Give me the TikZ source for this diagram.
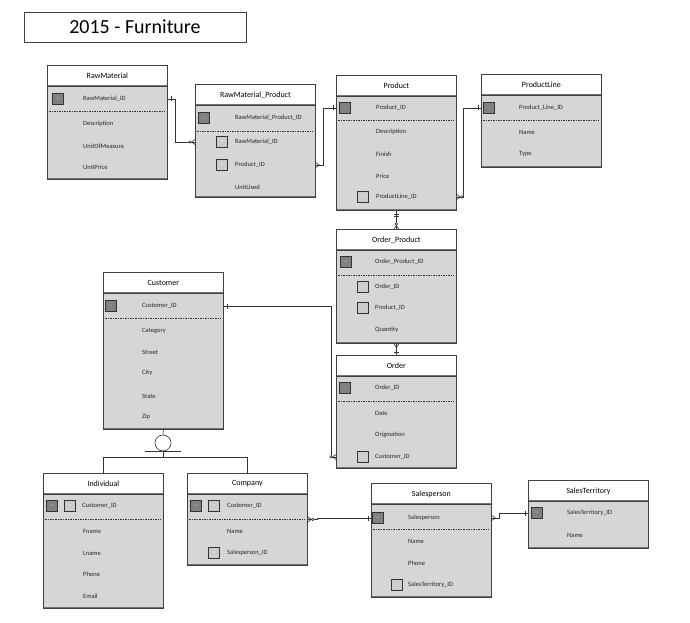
\documentclass[tikz,border=0pt]{standalone}
\usepackage{fontspec}
\setmainfont{Carlito}
\tikzset{
    tbl/.style={draw=black!75, line width=0.8pt, fill=black!16, anchor=north west, minimum width=120pt, inner sep=0pt,
        path picture={\draw[line width=2.4pt, black!55] (path picture bounding box.south west) -- (path picture bounding box.south east);}},
    hdr/.style={draw=black!75, line width=0.8pt, fill=white, anchor=north west, minimum width=120pt, minimum height=21pt, inner sep=0pt, font=\fontsize{8}{9}\selectfont,
        path picture={\draw[line width=2.4pt, black!55] (path picture bounding box.south west) -- (path picture bounding box.south east);}},
    fld/.style={anchor=west, inner sep=0pt, text=black!85, font=\fontsize{6.5}{7}\selectfont},
    pk/.style={draw=black!80, line width=0.6pt, fill=black!50, minimum size=11pt, inner sep=0pt, text=black!25, font=\fontsize{2.5}{3}\selectfont},
    fk/.style={pk, fill=black!20, text=white},
    sep/.style={line width=0.6pt, black!80, dash pattern=on 1.5pt off 1pt},
    link/.style={draw=black!80, line width=0.6pt},
    one/.pic={\draw[link] (-3,-2.5) -- (-3,2.5);},
    oneone/.pic={\draw[link] (-3,-2.5) -- (-3,2.5) (-5,-2.5) -- (-5,2.5);},
    many/.pic={\draw[link] (0,-2.5) -- (-3.5,0) -- (0,2.5);},
    zmany/.pic={\draw[link] (0,-2.5) -- (-3.5,0) -- (0,2.5); \draw[link, fill=white] (-5,0) circle (1.3);}
}
\begin{document}
\begin{tikzpicture}[x=1pt,y=-1pt]
\useasboundingbox (0,0) rectangle (690,623);
\node[draw=black!75, line width=0.8pt, minimum width=222pt, minimum height=30pt, font=\fontsize{20}{22}\selectfont] (title) at (135,27) {2015 - Furniture};

% RawMaterial
\node[tbl, minimum height=114pt] (rm) at (47,65) {};
\node[hdr] (rmH) at (47,65) {RawMaterial};
\node[pk] (rmPK) at (58,99) {PK};
\node[fld] (rmID) at (83,99) {RawMaterial\_ID};
\draw[sep] (49,111) -- (165,111);
\node[fld] (rmDesc) at (83,124) {Description};
\node[fld] (rmUnit) at (83,146) {UnitOfMeasure};
\node[fld] (rmPrice) at (83,167) {UnitPrice};

% RawMaterial_Product
\node[tbl, minimum height=113pt] (rmp) at (195,84) {};
\node[hdr] (rmpH) at (195,84) {RawMaterial\_Product};
\node[pk] (rmpPK) at (204,118) {PK};
\node[fld] (rmpID) at (235,118) {RawMaterial\_Product\_ID};
\draw[sep] (197,131) -- (313,131);
\node[fk] (rmpFK1) at (222,142) {FK};
\node[fld] (rmpRM) at (235,142) {RawMaterial\_ID};
\node[fk] (rmpFK2) at (222,165) {FK};
\node[fld] (rmpProd) at (235,165) {Product\_ID};
\node[fld] (rmpUsed) at (235,187) {UnitUsed};

% Product
\node[tbl, minimum height=135pt] (prod) at (336,75) {};
\node[hdr] (prodH) at (336,75) {Product};
\node[pk] (prodPK) at (345,108) {PK};
\node[fld] (prodID) at (376,108) {Product\_ID};
\draw[sep] (338,120) -- (454,120);
\node[fld] (prodDesc) at (376,132) {Description};
\node[fld] (prodFin) at (376,154) {Finish};
\node[fld] (prodPrice) at (376,176) {Price};
\node[fk] (prodFK) at (363,197) {FK};
\node[fld] (prodPL) at (376,197) {ProductLine\_ID};

% ProductLine
\node[tbl, minimum height=93pt] (pl) at (481,74) {};
\node[hdr] (plH) at (481,74) {ProductLine};
\node[pk] (plPK) at (489,108) {PK};
\node[fld] (plID) at (519,108) {Product\_Line\_ID};
\draw[sep] (483,120) -- (599,120);
\node[fld] (plName) at (519,132) {Name};
\node[fld] (plType) at (519,154) {Type};

% Order_Product
\node[tbl, minimum height=114pt] (op) at (336,229) {};
\node[hdr] (opH) at (336,229) {Order\_Product};
\node[pk] (opPK) at (346,262) {PK};
\node[fld] (opID) at (375,262) {Order\_Product\_ID};
\draw[sep] (338,275) -- (454,275);
\node[fk] (opFK1) at (363,287) {FK};
\node[fld] (opOrd) at (375,287) {Order\_ID};
\node[fk] (opFK2) at (363,308) {FK};
\node[fld] (opProd) at (375,308) {Product\_ID};
\node[fld] (opQty) at (375,330) {Quantity};

% Order
\node[tbl, minimum height=113pt] (ord) at (336,355) {};
\node[hdr] (ordH) at (336,355) {Order};
\node[pk] (ordPK) at (345,388) {PK};
\node[fld] (ordID) at (375,388) {Order\_ID};
\draw[sep] (338,401) -- (454,401);
\node[fld] (ordDate) at (375,413) {Date};
\node[fld] (ordOrig) at (375,435) {Origination};
\node[fk] (ordFK) at (363,457) {FK};
\node[fld] (ordCust) at (375,457) {Customer\_ID};

% Customer
\node[tbl, minimum height=157pt] (cust) at (103,272) {};
\node[hdr] (custH) at (103,272) {Customer};
\node[pk] (custPK) at (111,306) {PK};
\node[fld] (custID) at (142,306) {Customer\_ID};
\draw[sep] (105,318) -- (221,318);
\node[fld] (custCat) at (142,331) {Category};
\node[fld] (custStreet) at (142,352) {Street};
\node[fld] (custCity) at (142,373) {City};
\node[fld] (custState) at (142,396) {State};
\node[fld] (custZip) at (142,417) {Zip};

% Individual
\node[tbl, minimum height=135pt] (ind) at (43,473) {};
\node[hdr] (indH) at (43,473) {Individual};
\node[pk] (indPK) at (52,506) {PK};
\node[fk] (indFK) at (70,506) {FK};
\node[fld] (indID) at (82,506) {Customer\_ID};
\draw[sep] (45,519) -- (161,519);
\node[fld] (indF) at (83,531) {Fname};
\node[fld] (indL) at (83,553) {Lname};
\node[fld] (indPh) at (83,574) {Phone};
\node[fld] (indMail) at (83,596) {Email};

% Company
\node[tbl, minimum height=92pt] (comp) at (187,473) {};
\node[hdr] (compH) at (187,473) {Company};
\node[pk] (compPK) at (196,506) {PK};
\node[fk] (compFK1) at (214,506) {FK};
\node[fld] (compID) at (227,506) {Customer\_ID};
\draw[sep] (189,519) -- (305,519);
\node[fld] (compName) at (227,531) {Name};
\node[fk] (compFK2) at (214,553) {FK};
\node[fld] (compSp) at (227,553) {Salesperson\_ID};

% Salesperson
\node[tbl, minimum height=114pt] (sp) at (371,483) {};
\node[hdr] (spH) at (371,483) {Salesperson};
\node[pk] (spPK) at (378,518) {PK};
\node[fld] (spID) at (408,518) {Salesperson};
\draw[sep] (373,529) -- (489,529);
\node[fld] (spName) at (408,541) {Name};
\node[fld] (spPh) at (408,563) {Phone};
\node[fk] (spFK) at (397,585) {FK};
\node[fld] (spST) at (408,585) {SalesTerritory\_ID};

% SalesTerritory
\node[tbl, minimum height=68pt] (st) at (528,480) {};
\node[hdr] (stH) at (528,480) {SalesTerritory};
\node[pk] (stPK) at (537,513) {PK};
\node[fld] (stID) at (567,513) {SalesTerritory\_ID};
\node[fld] (stName) at (567,535) {Name};

% subtype
\node[draw=black!80, line width=0.6pt, circle, minimum size=16pt, inner sep=0pt] (sub) at (163,443) {};
\draw[link] (cust.south) -- (sub.north);
\draw[link] ([xshift=-18pt]sub.south) -- ([xshift=18pt]sub.south);
\draw[link] (sub.south) -- ++(0,6) coordinate (fork);
\draw[link] (ind.north) |- (fork) -| (comp.north);

% relationships
\draw[link] (rm.east |- rmID) -- ++(7,0) |- (rmp.west |- rmpRM);
\draw[link] (rmp.east |- rmpProd) -- ++(7,0) |- (prod.west |- prodID);
\draw[link] (prod.east |- prodPL) -- ++(6,0) |- (pl.west |- plID);
\draw[link] (prod.south) -- (op.north);
\draw[link] (op.south) -- (ord.north);
\draw[link] (ord.west |- ordCust) -- ++(-5,0) |- (cust.east |- custID);
\draw[link] (comp.east) -- ++(9,0) |- (sp.west |- spID);
\draw[link] (sp.east |- spID) -- ++(7,0) |- (st.west |- stID);

\pic[rotate=180] at (rm.east |- rmID) {one};
\pic at (rmp.west |- rmpRM) {zmany};
\pic[rotate=180] at (rmp.east |- rmpProd) {many};
\pic at (prod.west |- prodID) {one};
\pic[rotate=180] at (prod.east |- prodPL) {zmany};
\pic at (pl.west |- plID) {one};
\pic[rotate=90] at (prod.south) {oneone};
\pic[rotate=-90] at (op.north) {zmany};
\pic[rotate=90] at (op.south) {many};
\pic[rotate=-90] at (ord.north) {one};
\pic[rotate=180] at (cust.east |- custID) {one};
\pic at (ord.west |- ordCust) {zmany};
\pic[rotate=180] at (comp.east) {zmany};
\pic at (sp.west |- spID) {one};
\pic[rotate=180] at (sp.east |- spID) {many};
\pic at (st.west |- stID) {one};
\end{tikzpicture}
\end{document}
